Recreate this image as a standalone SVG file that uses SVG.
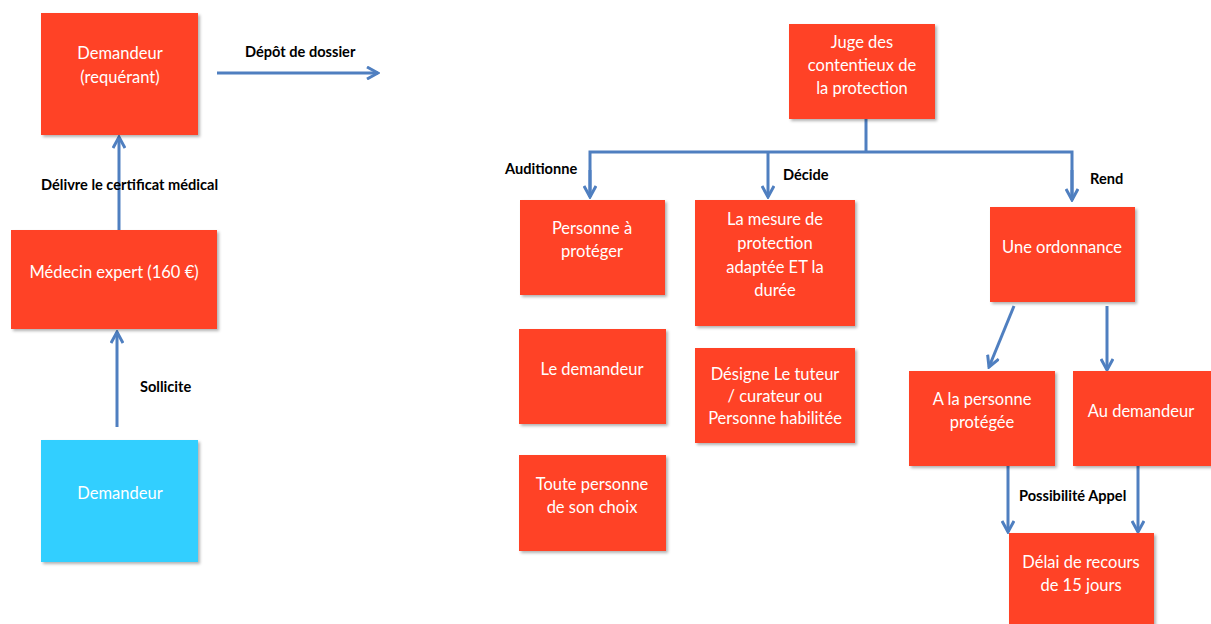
<svg xmlns="http://www.w3.org/2000/svg" width="1211" height="624" viewBox="0 0 1211 624">
<defs>
<style>
.box{fill:#FF4228;}
.cyan{fill:#33CFFF;}
.t{font-family:Lato,"Open Sans","Liberation Sans",sans-serif;font-size:16.5px;fill:#ffffff;text-anchor:middle;dominant-baseline:central;}
.lbl{font-family:Lato,"Open Sans","Liberation Sans",sans-serif;font-size:14.6px;font-weight:bold;fill:#000000;dominant-baseline:central;}
.c{fill:none;stroke:#4F7FC0;stroke-width:3;}
</style>
<filter id="sh" x="-10%" y="-10%" width="125%" height="125%">
<feDropShadow dx="2" dy="2" stdDeviation="1.5" flood-color="#000" flood-opacity="0.3"/>
</filter>
<marker id="ah" viewBox="0 0 14 14" refX="12" refY="7" markerWidth="14" markerHeight="14" markerUnits="userSpaceOnUse" orient="auto">
<path d="M1,1 L12,7 L1,13" fill="none" stroke="#4F7FC0" stroke-width="3"/>
</marker>
</defs>
<rect width="1211" height="624" fill="#ffffff"/>

<g id="connectors">
<line class="c" x1="217" y1="73" x2="378" y2="73" marker-end="url(#ah)"/>
<line class="c" x1="119" y1="230" x2="119" y2="137" marker-end="url(#ah)"/>
<line class="c" x1="117" y1="427" x2="117" y2="332" marker-end="url(#ah)"/>
<polyline class="c" points="866,119 866,152"/>
<polyline class="c" points="590,197 590,152 1072,152 1072,200"/>
<line class="c" x1="590" y1="170" x2="590" y2="197" marker-end="url(#ah)"/>
<line class="c" x1="768" y1="152" x2="768" y2="197" marker-end="url(#ah)"/>
<line class="c" x1="1072" y1="170" x2="1072" y2="200" marker-end="url(#ah)"/>
<line class="c" x1="1014" y1="306" x2="989" y2="367" marker-end="url(#ah)"/>
<line class="c" x1="1107" y1="306" x2="1107" y2="370" marker-end="url(#ah)"/>
<line class="c" x1="1008" y1="466" x2="1008" y2="532" marker-end="url(#ah)"/>
<line class="c" x1="1138" y1="466" x2="1138" y2="532" marker-end="url(#ah)"/>
<text class="lbl" x="245" y="51">Dépôt de dossier</text>
<text class="lbl" x="41" y="184">Délivre le certificat médical</text>
<text class="lbl" x="140" y="386">Sollicite</text>
<text class="lbl" x="505" y="168">Auditionne</text>
<text class="lbl" x="783" y="174">Décide</text>
<text class="lbl" x="1090" y="178">Rend</text>
<text class="lbl" x="1019" y="495">Possibilité Appel</text>
</g>

<g id="n-requerant">
<rect class="box" filter="url(#sh)" x="41" y="13" width="157" height="122"/>
<text class="t" x="120" y="53">Demandeur</text>
<text class="t" x="120" y="77">(requérant)</text>
</g>
<g id="n-medecin">
<rect class="box" filter="url(#sh)" x="11" y="230" width="206" height="99"/>
<text class="t" x="114" y="272">Médecin expert (160 €)</text>
</g>
<g id="n-demandeur">
<rect class="cyan" filter="url(#sh)" x="41" y="440" width="157" height="122"/>
<text class="t" x="120" y="493">Demandeur</text>
</g>
<g id="n-juge">
<rect class="box" filter="url(#sh)" x="789" y="24" width="146" height="95"/>
<text class="t" x="862" y="42">Juge des</text>
<text class="t" x="862" y="65">contentieux de</text>
<text class="t" x="862" y="88">la protection</text>
</g>
<g id="n-personne">
<rect class="box" filter="url(#sh)" x="520" y="200" width="145" height="95"/>
<text class="t" x="592" y="228">Personne à</text>
<text class="t" x="592" y="251">protéger</text>
</g>
<g id="n-mesure">
<rect class="box" filter="url(#sh)" x="695" y="200" width="160" height="126"/>
<text class="t" x="775" y="219">La mesure de</text>
<text class="t" x="775" y="243">protection</text>
<text class="t" x="775" y="267">adaptée ET la</text>
<text class="t" x="775" y="290">durée</text>
</g>
<g id="n-ordonnance">
<rect class="box" filter="url(#sh)" x="990" y="207" width="145" height="95"/>
<text class="t" x="1062" y="247">Une ordonnance</text>
</g>
<g id="n-le-demandeur">
<rect class="box" filter="url(#sh)" x="519" y="329" width="147" height="95"/>
<text class="t" x="592" y="369">Le demandeur</text>
</g>
<g id="n-designe">
<rect class="box" filter="url(#sh)" x="695" y="348" width="160" height="95"/>
<text class="t" x="775" y="374">Désigne Le tuteur</text>
<text class="t" x="775" y="396">/ curateur ou</text>
<text class="t" x="775" y="418">Personne habilitée</text>
</g>
<g id="n-toute">
<rect class="box" filter="url(#sh)" x="519" y="455" width="147" height="96"/>
<text class="t" x="592" y="484">Toute personne</text>
<text class="t" x="592" y="507">de son choix</text>
</g>
<g id="n-protegee">
<rect class="box" filter="url(#sh)" x="909" y="371" width="146" height="95"/>
<text class="t" x="982" y="399">A la personne</text>
<text class="t" x="982" y="422">protégée</text>
</g>
<g id="n-au-demandeur">
<rect class="box" filter="url(#sh)" x="1073" y="371" width="140" height="95"/>
<text class="t" x="1141" y="411">Au demandeur</text>
</g>
<g id="n-delai">
<rect class="box" filter="url(#sh)" x="1009" y="533" width="145" height="95"/>
<text class="t" x="1081" y="562">Délai de recours</text>
<text class="t" x="1081" y="585">de 15 jours</text>
</g>
</svg>
